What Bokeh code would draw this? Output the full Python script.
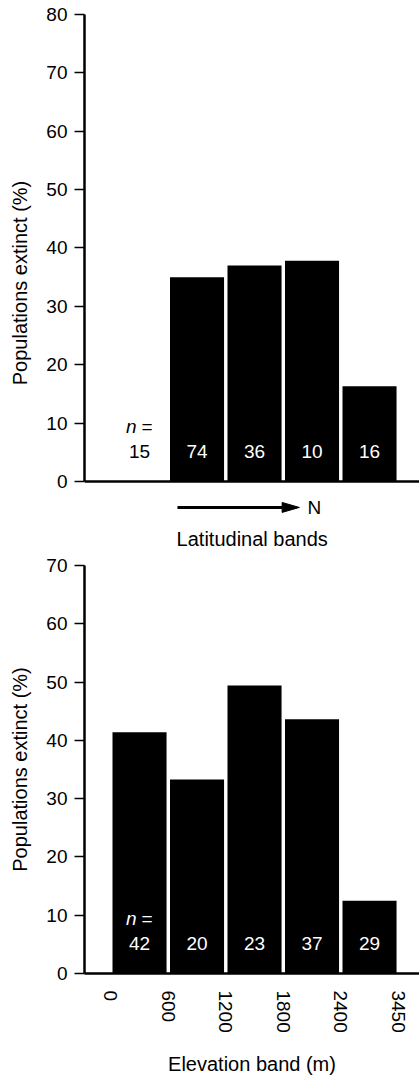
from bokeh.plotting import figure
from bokeh.layouts import column
from bokeh.models import ColumnDataSource, FixedTicker
from bokeh.core.properties import value
from bokeh.embed import file_html
from bokeh.resources import INLINE

# ---------------- data ----------------
lat_extinct = [0, 35, 37, 37.8, 16.3]       # % populations extinct, south -> north
lat_n = [15, 74, 36, 10, 16]

elev_ticks = ["0", "600", "1200", "1800", "2400", "3450"]
elev_extinct = [41.4, 33.3, 49.4, 43.6, 12.5]
elev_n = [42, 20, 23, 37, 29]

FONT = "Liberation Sans"
BAR_W = 0.94
N_Y = 5.2
NEQ_Y = 9.5
PX_PER_X = 57.5
X_START = -0.457
FRAME_W = 335
X_END = X_START + FRAME_W / PX_PER_X

# arrow / label placement under the latitude panel (data units)
ARROW_X0, ARROW_X1, ARROW_Y = 1.16, 3.28, -4.45
HEAD_LEN, HEAD_HALF = 0.30, 0.85
N_X = 3.42
LAT_LABEL_X, LAT_LABEL_Y = 2.46, -9.9


def base_fig(frame_h, y_start, y_end, border_top):
    p = figure(frame_width=FRAME_W, frame_height=frame_h,
               x_range=(X_START, X_END), y_range=(y_start, y_end),
               output_backend="svg", toolbar_location=None,
               min_border_left=84, min_border_right=0,
               min_border_top=border_top, min_border_bottom=0)
    p.outline_line_color = None
    p.xgrid.visible = False
    p.ygrid.visible = False
    p.background_fill_color = "white"
    p.border_fill_color = "white"
    # y axis
    p.yaxis.ticker = FixedTicker(ticks=list(range(0, int(y_end) + 1, 10)))
    p.yaxis.bounds = (0, y_end)
    p.yaxis.axis_label = "Populations extinct (%)"
    p.yaxis.axis_label_text_font = FONT
    p.yaxis.axis_label_text_font_style = "normal"
    p.yaxis.axis_label_text_font_size = "20px"
    p.yaxis.axis_label_text_color = "black"
    p.yaxis.axis_label_standoff = 12
    p.yaxis.major_label_text_font = FONT
    p.yaxis.major_label_text_font_size = "19px"
    p.yaxis.major_label_text_color = "black"
    p.yaxis.major_label_standoff = 7
    p.yaxis.major_tick_out = 10
    p.yaxis.major_tick_in = 0
    p.yaxis.minor_tick_out = 0
    p.yaxis.minor_tick_in = 0
    p.yaxis.axis_line_width = 2.5
    p.yaxis.major_tick_line_width = 1.5
    p.yaxis.axis_line_color = "black"
    p.yaxis.major_tick_line_color = "black"
    # x axis
    p.xaxis.axis_line_width = 2.5
    p.xaxis.axis_line_color = "black"
    p.xaxis.major_tick_out = 0
    p.xaxis.major_tick_in = 0
    p.xaxis.minor_tick_out = 0
    p.xaxis.minor_tick_in = 0
    p.xaxis.axis_label_text_font = FONT
    p.xaxis.axis_label_text_font_style = "normal"
    p.xaxis.axis_label_text_font_size = "20px"
    p.xaxis.axis_label_text_color = "black"
    p.xaxis.major_label_text_font = FONT
    p.xaxis.major_label_text_font_size = "19px"
    p.xaxis.major_label_text_color = "black"
    return p


def add_bars_and_counts(p, vals, counts, neq_color):
    xs = [i + 0.5 for i in range(len(vals))]
    src = ColumnDataSource(dict(
        x=xs, top=vals,
        n=[str(c) for c in counts],
        ny=[N_Y] * len(vals),
        ncol=["black" if v == 0 else "white" for v in vals],
    ))
    p.vbar(x="x", top="top", bottom=0, width=BAR_W, source=src,
           fill_color="black", line_color=None)
    p.text(x="x", y="ny", text="n", source=src, text_color="ncol",
           text_font=value(FONT), text_font_size="19px",
           text_align="center", text_baseline="middle")
    p.text(x=[xs[0]], y=[NEQ_Y], text=["n"], text_color=neq_color,
           text_font=value(FONT), text_font_size="19px",
           text_font_style="italic",
           text_align="right", text_baseline="middle", x_offset=-3)
    p.text(x=[xs[0]], y=[NEQ_Y], text=["="], text_color=neq_color,
           text_font=value(FONT), text_font_size="19px",
           text_align="left", text_baseline="middle", x_offset=2)


# ---------------- top panel: latitude ----------------
p1 = base_fig(537, -12, 80, 14)
add_bars_and_counts(p1, lat_extinct, lat_n, "black")
p1.xaxis.ticker = FixedTicker(ticks=[])
p1.xaxis.major_label_standoff = 0
p1.xaxis.fixed_location = 0
# direction arrow towards north
p1.segment(x0=[ARROW_X0], y0=[ARROW_Y], x1=[ARROW_X1 - HEAD_LEN], y1=[ARROW_Y],
           line_width=3, line_color="black")
p1.patch(x=[ARROW_X1 - HEAD_LEN, ARROW_X1, ARROW_X1 - HEAD_LEN],
         y=[ARROW_Y + HEAD_HALF, ARROW_Y, ARROW_Y - HEAD_HALF],
         fill_color="black", line_color="black")
p1.text(x=[N_X], y=[ARROW_Y], text=["N"], text_color="black",
        text_font=value(FONT), text_font_size="19px",
        text_align="left", text_baseline="middle")
p1.text(x=[LAT_LABEL_X], y=[LAT_LABEL_Y], text=["Latitudinal bands"],
        text_color="black", text_font=value(FONT), text_font_size="20px",
        text_align="center", text_baseline="middle")

# ---------------- bottom panel: elevation ----------------
p2 = base_fig(408, 0, 70, 14)
add_bars_and_counts(p2, elev_extinct, elev_n, "white")
p2.xaxis.ticker = FixedTicker(ticks=list(range(len(elev_ticks))))
p2.xaxis.major_label_overrides = {i: t for i, t in enumerate(elev_ticks)}
p2.xaxis.major_label_orientation = "vertical"
p2.xaxis.major_label_standoff = 17
p2.xaxis.axis_label = "Elevation band (m)"
p2.xaxis.axis_label_standoff = 17

layout = column(p1, p2, spacing=0)
open("out.html", "w").write(file_html(layout, INLINE))
